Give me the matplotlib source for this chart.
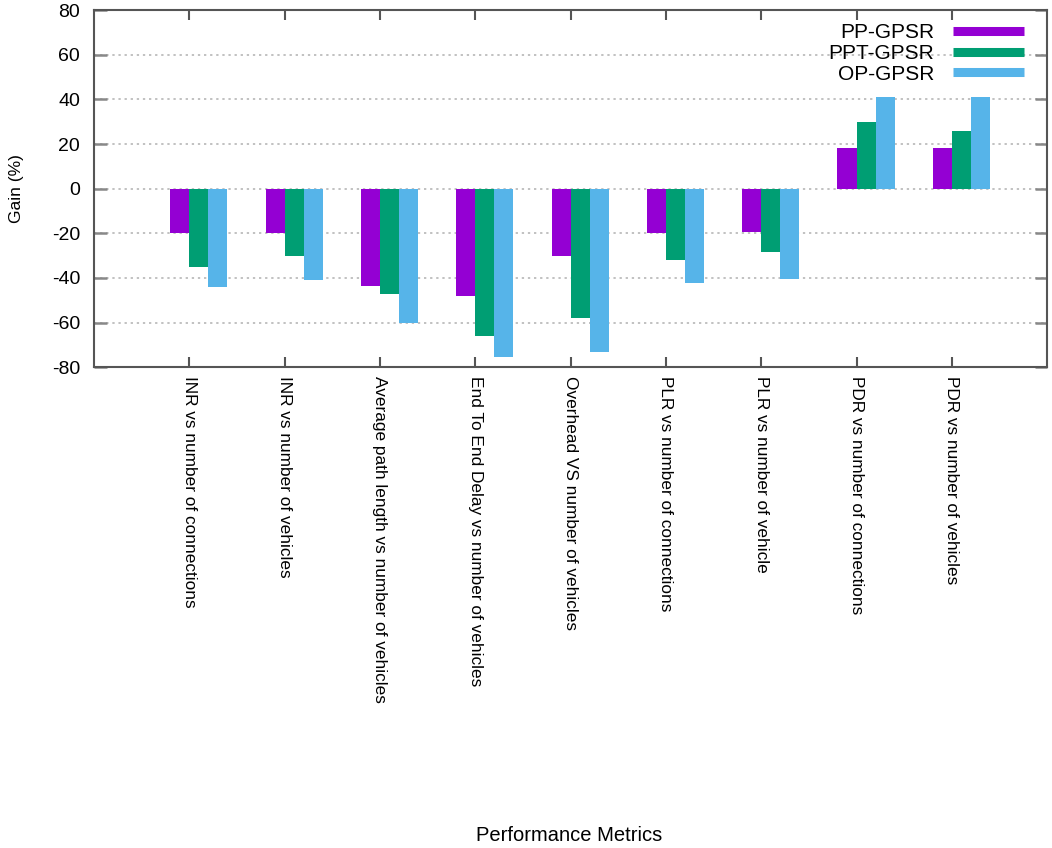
import numpy as np
import matplotlib.pyplot as plt
from matplotlib.lines import Line2D

# Data
metrics = [
    "INR vs number of connections",
    "INR vs number of vehicles",
    "Average path length vs number of vehicles",
    "End To End Delay vs number of vehicles",
    "Overhead VS number of vehicles",
    "PLR vs number of connections",
    "PLR vs number of vehicle",
    "PDR vs number of connections",
    "PDR vs number of vehicles",
]
pp_gpsr = [-20, -20, -43.5, -48.3, -30, -20, -19.3, 18.3, 18.2]
ppt_gpsr = [-35, -30, -47, -66, -58, -32, -28.2, 29.7, 25.7]
op_gpsr = [-44, -41, -60, -75.3, -73.4, -42.3, -40.4, 41, 41]

series = [("PP-GPSR", pp_gpsr, "#9400D3"),
          ("PPT-GPSR", ppt_gpsr, "#009E73"),
          ("OP-GPSR", op_gpsr, "#56B4E9")]

plt.rcParams['font.family'] = ['Liberation Sans', 'DejaVu Sans']
plt.rcParams['axes.unicode_minus'] = False

fig = plt.figure(figsize=(10.52, 8.48), dpi=100)
ax = fig.add_axes([0.0894, 0.567, 0.906, 0.421])

x = np.arange(1, len(metrics) + 1)
width = 0.2
offsets = [-0.1, 0.1, 0.3]

handles = []
for (name, vals, color), off in zip(series, offsets):
    ax.bar(x + off, vals, width=width, color=color, zorder=2)
    handles.append(Line2D([0], [0], color=color, lw=6.5, solid_capstyle='butt', label=name))

ax.set_xlim(0, 10)
ax.set_ylim(-80, 80)
ax.set_yticks(np.arange(-80, 81, 20))
ax.set_xticks(x)
ax.set_xticklabels(metrics, rotation=-90, fontsize=12.4, va='top', ha='center')
ax.tick_params(axis='y', labelsize=14, direction='in', length=9, width=1.8,
               color='#888888', right=True, pad=10)
ax.tick_params(axis='x', direction='in', length=7, width=1.5,
               color='#555555', top=True, pad=6)

ax.yaxis.grid(True, linestyle=(0, (1.5, 2.5)), color='#b0b0b0', lw=1.1, zorder=0)
ax.set_axisbelow(True)
for sp in ax.spines.values():
    sp.set_color('#555555')
    sp.set_linewidth(1.5)

ax.set_ylabel("Gain (%)", fontsize=12.5, labelpad=20)
fig.text(0.541, 0.003, "Performance Metrics", fontsize=14.5, ha='center', va='bottom')

ax.legend(handles=handles, loc='upper right', bbox_to_anchor=(0.995, 1.016),
          frameon=False, markerfirst=False, fontsize=15, handlelength=3.4,
          labelspacing=0.08, handletextpad=0.9)

plt.savefig("out.png", dpi=100)
